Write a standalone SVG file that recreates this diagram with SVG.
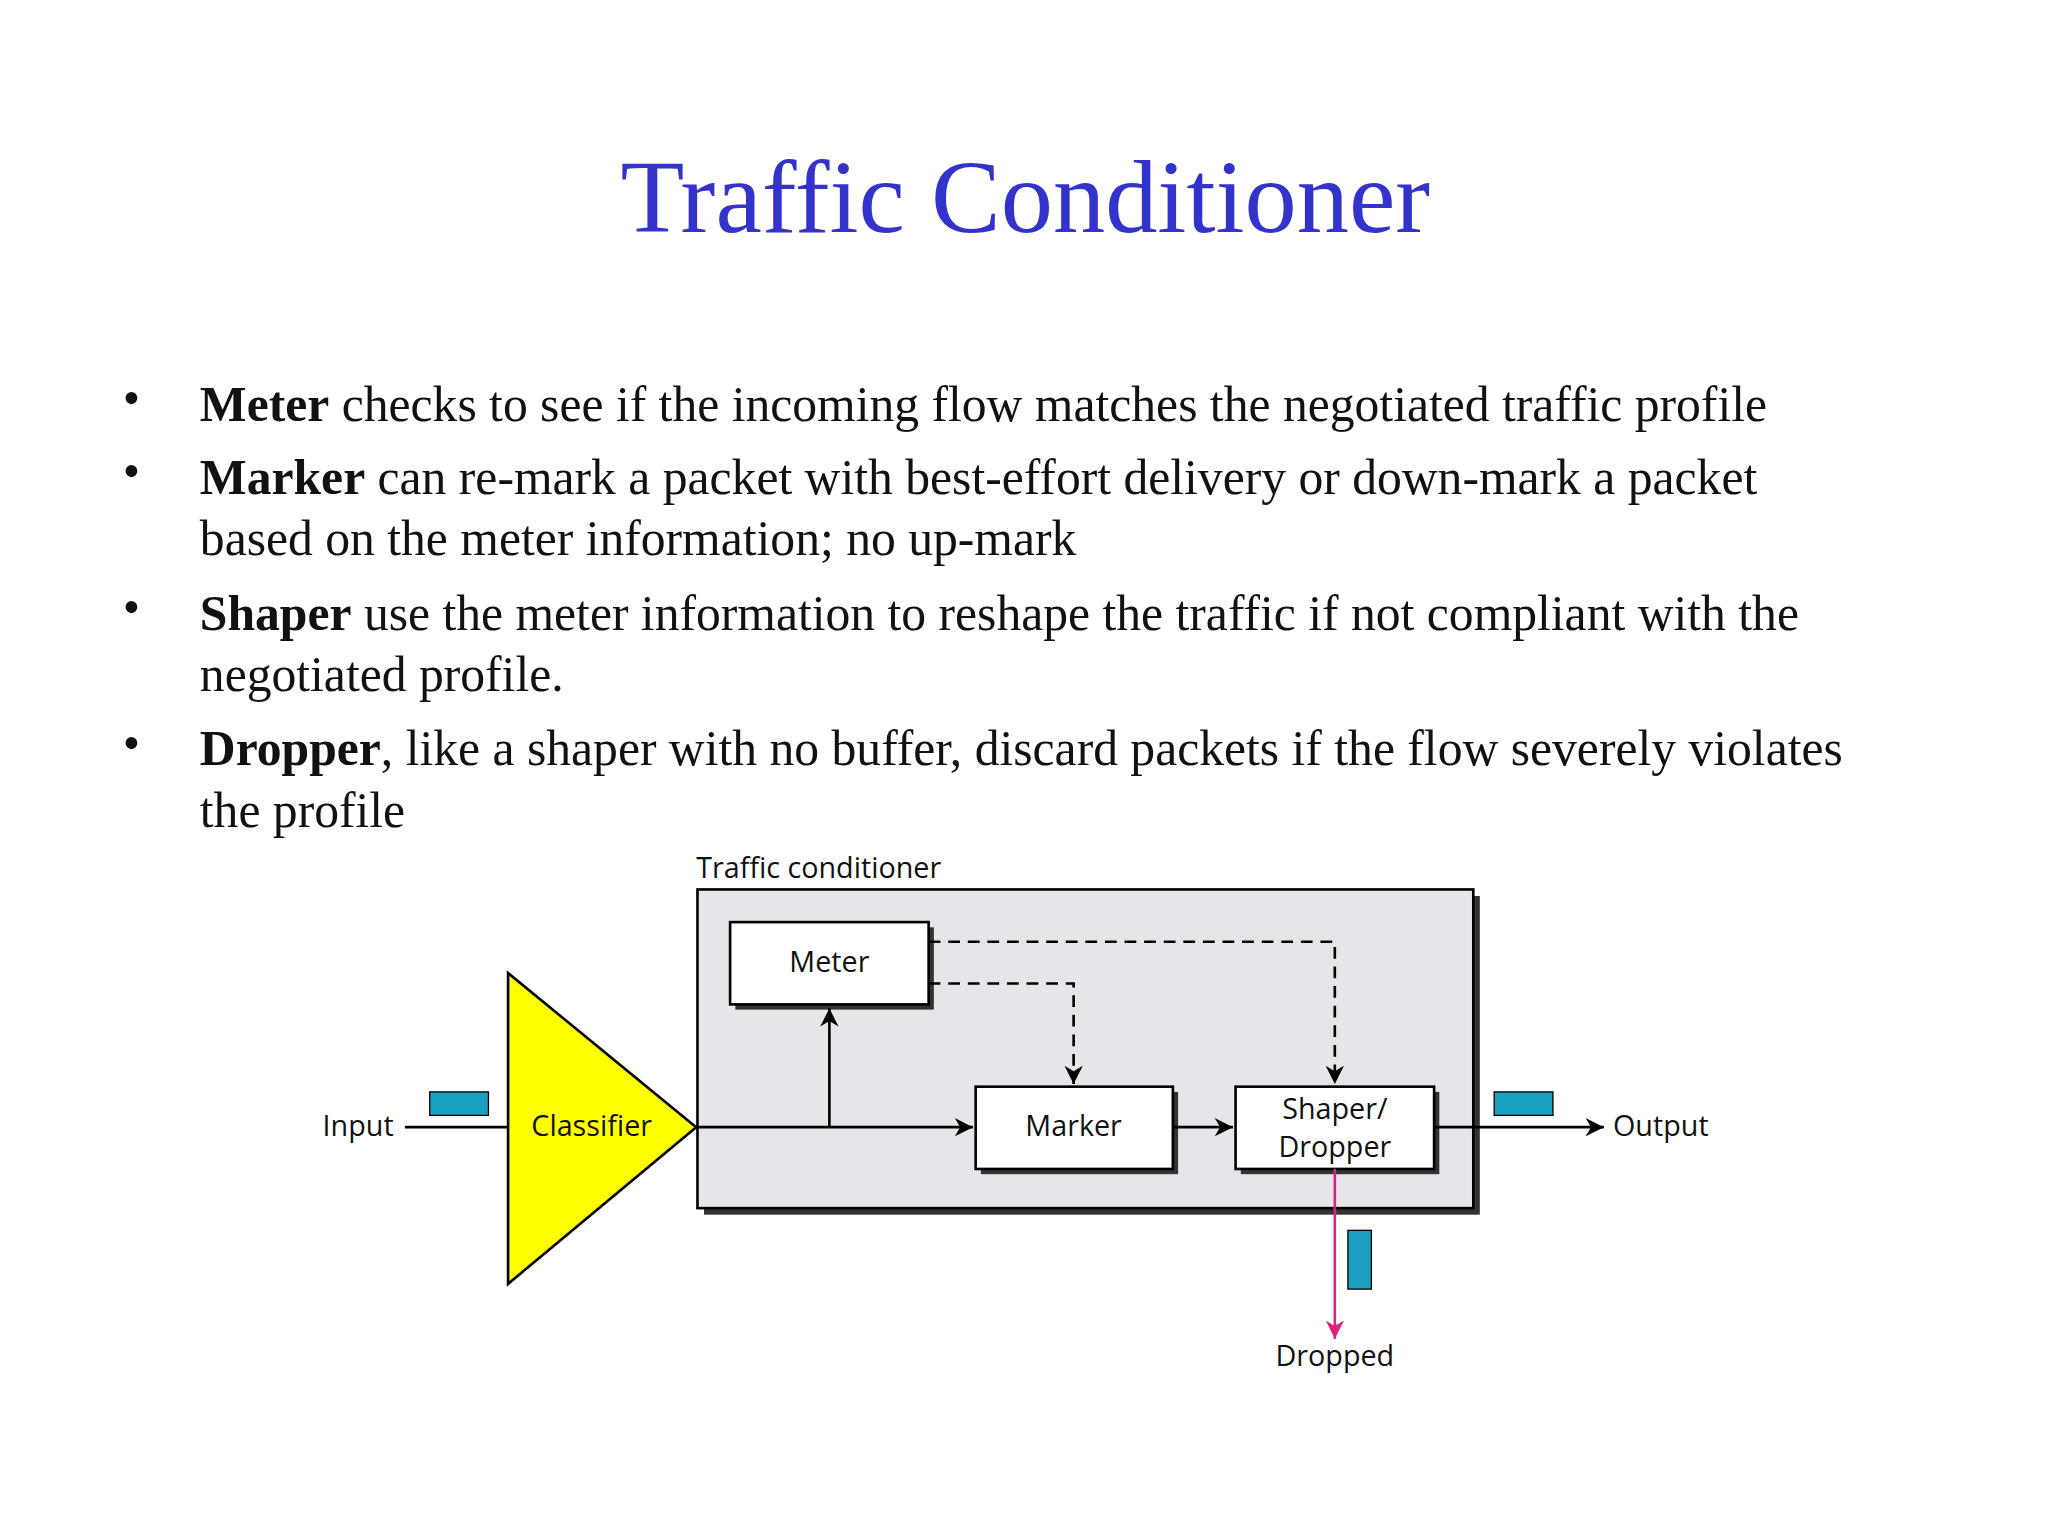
<svg xmlns="http://www.w3.org/2000/svg" width="2048" height="1536" viewBox="0 0 2048 1536">
<defs>
<marker id="ah" viewBox="0 0 10 10" refX="10" refY="5" markerWidth="10" markerHeight="10" markerUnits="userSpaceOnUse" orient="auto"><path d="M0,0 L10,5 L0,10 L3,5 z" fill="#000"/></marker>
<marker id="ahb" viewBox="0 0 10 10" refX="10" refY="5" markerWidth="22" markerHeight="14" markerUnits="userSpaceOnUse" orient="auto"><path d="M0,0 L10,5 L0,10 L3,5 z" fill="#000"/></marker>
<marker id="ahp" viewBox="0 0 10 10" refX="10" refY="5" markerWidth="22" markerHeight="14" markerUnits="userSpaceOnUse" orient="auto"><path d="M0,0 L10,5 L0,10 L3,5 z" fill="#e0207a"/></marker>
</defs>
<style>
.b{font-family:"Liberation Serif",serif;font-size:38px;fill:#111}
.s{font-family:"Open Sans","Noto Sans",sans-serif;font-size:22px;fill:#111}
.box{fill:#fff;stroke:#000;stroke-width:2}
.sh{fill:#333}
.ln{stroke:#000;stroke-width:2;fill:none}
.pk{fill:#1a9fc0;stroke:#000;stroke-width:1}
</style>
<rect width="2048" height="1536" fill="#fff"/>
<g transform="scale(1.3061)">
<text x="785" y="178" text-anchor="middle" font-family="Liberation Serif,serif" font-size="80" fill="#3333cc">Traffic Conditioner</text>
<g class="b">
<text x="94" y="318">•</text><text x="153" y="322"><tspan font-weight="bold">Meter</tspan> checks to see if the incoming flow matches the negotiated traffic profile</text>
<text x="94" y="374">•</text><text x="153" y="378"><tspan font-weight="bold">Marker</tspan> can re-mark a packet with best-effort delivery or down-mark a packet</text>
<text x="153" y="425">based on the meter information; no up-mark</text>
<text x="94" y="478">•</text><text x="153" y="482"><tspan font-weight="bold">Shaper</tspan> use the meter information to reshape the traffic if not compliant with the</text>
<text x="153" y="529">negotiated profile.</text>
<text x="94" y="582">•</text><text x="153" y="586"><tspan font-weight="bold">Dropper</tspan>, like a shaper with no buffer, discard packets if the flow severely violates</text>
<text x="153" y="633">the profile</text>
</g>
<g id="conditioner">
<text class="s" x="533" y="672">Traffic conditioner</text>
<rect class="sh" x="539" y="686" width="594" height="244"/>
<rect x="534" y="681" width="594" height="244" fill="#e6e5ea" stroke="#000" stroke-width="2"/>
</g>
<g id="meter"><rect class="sh" x="563" y="710" width="152" height="63"/><rect class="box" x="559" y="706" width="152" height="63"/><text class="s" x="635" y="744" text-anchor="middle">Meter</text></g>
<g id="marker"><rect class="sh" x="751" y="836" width="151" height="63"/><rect class="box" x="747" y="832" width="151" height="63"/><text class="s" x="822" y="870" text-anchor="middle">Marker</text></g>
<g id="shaper"><rect class="sh" x="950" y="836" width="152" height="63"/><rect class="box" x="946" y="832" width="152" height="63"/><text class="s" x="1022" y="857" text-anchor="middle">Shaper/</text><text class="s" x="1022" y="886" text-anchor="middle">Dropper</text></g>
<g id="classifier"><polygon points="389,745 533,863 389,983" fill="#ffff00" stroke="#000" stroke-width="2"/><text class="s" x="453" y="870" text-anchor="middle">Classifier</text></g>
<g id="labels">
<text class="s" x="247" y="870">Input</text>
<text class="s" x="1235" y="870">Output</text>
<text class="s" x="1022" y="1046" text-anchor="middle">Dropped</text>
<rect class="pk" x="329" y="836" width="45" height="18"/>
<rect class="pk" x="1144" y="836" width="45" height="18"/>
<rect class="pk" x="1032" y="942" width="18" height="45"/>
</g>
<g id="connectors">
<line class="ln" x1="310" y1="863" x2="389" y2="863"/>
<line class="ln" x1="533" y1="863" x2="745" y2="863" marker-end="url(#ahb)"/>
<line class="ln" x1="635" y1="863" x2="635" y2="772" marker-end="url(#ahb)"/>
<polyline class="ln" points="711,721 1022,721 1022,830" stroke-dasharray="9,6" marker-end="url(#ahb)"/>
<polyline class="ln" points="711,753 822,753 822,830" stroke-dasharray="9,6" marker-end="url(#ahb)"/>
<line class="ln" x1="898" y1="863" x2="944" y2="863" marker-end="url(#ahb)"/>
<line class="ln" x1="1098" y1="863" x2="1228" y2="863" marker-end="url(#ahb)"/>
<line x1="1022" y1="895" x2="1022" y2="1025" stroke="#e0207a" stroke-width="2" marker-end="url(#ahp)"/>
</g>
</g>
</svg>
